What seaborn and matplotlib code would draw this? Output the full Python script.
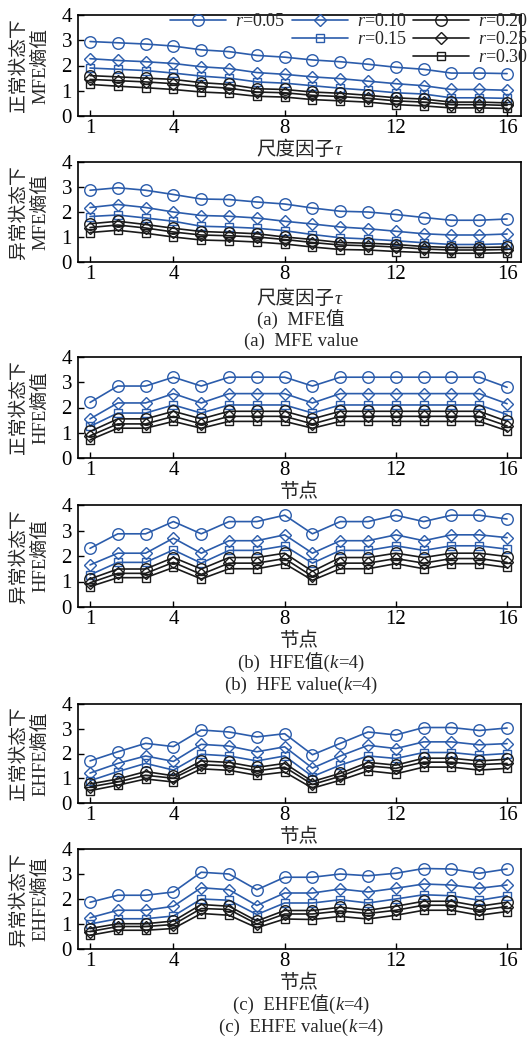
import matplotlib
matplotlib.use("Agg")
import matplotlib.pyplot as plt
from matplotlib.lines import Line2D
import seaborn as sns
import pandas as pd
import numpy as np

# ---------------- data ----------------
nodes = list(range(1, 17))
r_labels = ["0.05", "0.10", "0.15", "0.20", "0.25", "0.30"]

mfe_normal_05 = [2.95, 2.9, 2.85, 2.77, 2.62, 2.55, 2.4, 2.33, 2.22, 2.15, 2.05, 1.93, 1.85, 1.7, 1.7, 1.68]
mfe_normal_10 = [2.27, 2.2, 2.15, 2.08, 1.95, 1.88, 1.72, 1.65, 1.55, 1.48, 1.38, 1.28, 1.2, 1.05, 1.05, 1.02]
mfe_normal_15 = [1.9, 1.85, 1.8, 1.7, 1.58, 1.5, 1.35, 1.3, 1.2, 1.1, 1.02, 0.92, 0.87, 0.72, 0.72, 0.7]
mfe_normal_20 = [1.6, 1.55, 1.5, 1.45, 1.32, 1.25, 1.08, 1.05, 0.95, 0.9, 0.82, 0.72, 0.67, 0.55, 0.55, 0.52]
mfe_normal_25 = [1.45, 1.4, 1.35, 1.28, 1.17, 1.1, 0.95, 0.92, 0.82, 0.77, 0.7, 0.6, 0.55, 0.45, 0.45, 0.42]
mfe_normal_30 = [1.25, 1.18, 1.12, 1.05, 0.95, 0.9, 0.78, 0.75, 0.65, 0.6, 0.55, 0.45, 0.4, 0.32, 0.32, 0.3]

mfe_abn_05 = [2.87, 2.97, 2.87, 2.7, 2.52, 2.5, 2.4, 2.32, 2.16, 2.03, 2.0, 1.9, 1.78, 1.67, 1.67, 1.72]
mfe_abn_10 = [2.18, 2.3, 2.18, 2.0, 1.86, 1.83, 1.76, 1.63, 1.52, 1.4, 1.33, 1.23, 1.13, 1.08, 1.08, 1.12]
mfe_abn_15 = [1.82, 1.88, 1.76, 1.63, 1.43, 1.4, 1.35, 1.25, 1.1, 0.97, 0.92, 0.85, 0.77, 0.7, 0.7, 0.73]
mfe_abn_20 = [1.53, 1.63, 1.5, 1.35, 1.22, 1.18, 1.13, 1.0, 0.9, 0.78, 0.75, 0.7, 0.62, 0.58, 0.58, 0.6]
mfe_abn_25 = [1.38, 1.48, 1.36, 1.2, 1.08, 1.05, 1.0, 0.9, 0.78, 0.68, 0.65, 0.6, 0.52, 0.48, 0.48, 0.5]
mfe_abn_30 = [1.18, 1.27, 1.15, 1.0, 0.88, 0.85, 0.8, 0.72, 0.6, 0.5, 0.48, 0.42, 0.38, 0.35, 0.35, 0.37]

hfe_normal_05 = [2.2, 2.85, 2.85, 3.2, 2.85, 3.2, 3.2, 3.2, 2.85, 3.2, 3.2, 3.2, 3.2, 3.2, 3.2, 2.8]
hfe_normal_10 = [1.55, 2.18, 2.18, 2.55, 2.18, 2.55, 2.55, 2.55, 2.18, 2.55, 2.55, 2.55, 2.55, 2.55, 2.55, 2.15]
hfe_normal_15 = [1.25, 1.78, 1.78, 2.1, 1.78, 2.1, 2.1, 2.1, 1.78, 2.1, 2.1, 2.1, 2.1, 2.1, 2.1, 1.72]
hfe_normal_20 = [1.05, 1.55, 1.55, 1.85, 1.55, 1.85, 1.85, 1.85, 1.55, 1.85, 1.85, 1.85, 1.85, 1.85, 1.85, 1.45]
hfe_normal_25 = [0.88, 1.35, 1.35, 1.65, 1.35, 1.65, 1.65, 1.65, 1.35, 1.65, 1.65, 1.65, 1.65, 1.65, 1.65, 1.27]
hfe_normal_30 = [0.72, 1.18, 1.18, 1.45, 1.18, 1.45, 1.45, 1.45, 1.18, 1.45, 1.45, 1.45, 1.45, 1.45, 1.45, 1.08]

hfe_abn_05 = [2.3, 2.87, 2.87, 3.35, 2.87, 3.35, 3.35, 3.6, 2.87, 3.35, 3.35, 3.6, 3.35, 3.6, 3.6, 3.45]
hfe_abn_10 = [1.65, 2.11, 2.11, 2.7, 2.11, 2.6, 2.6, 2.83, 2.11, 2.6, 2.6, 2.83, 2.6, 2.83, 2.83, 2.72]
hfe_abn_15 = [1.26, 1.75, 1.75, 2.24, 1.72, 2.22, 2.22, 2.4, 1.72, 2.22, 2.22, 2.4, 2.22, 2.4, 2.4, 2.27]
hfe_abn_20 = [1.1, 1.49, 1.49, 1.94, 1.49, 1.94, 1.94, 2.11, 1.4, 1.94, 1.94, 2.11, 1.94, 2.11, 2.11, 1.98]
hfe_abn_25 = [0.95, 1.32, 1.32, 1.75, 1.28, 1.72, 1.72, 1.9, 1.2, 1.72, 1.72, 1.9, 1.72, 1.9, 1.9, 1.75]
hfe_abn_30 = [0.8, 1.15, 1.15, 1.55, 1.1, 1.5, 1.5, 1.7, 1.05, 1.5, 1.5, 1.7, 1.5, 1.7, 1.7, 1.55]

ehfe_normal_05 = [1.7, 2.07, 2.41, 2.28, 2.95, 2.87, 2.67, 2.8, 1.95, 2.41, 2.87, 2.75, 3.05, 3.05, 2.93, 3.03]
ehfe_normal_10 = [1.21, 1.6, 1.9, 1.68, 2.37, 2.3, 2.07, 2.27, 1.41, 1.9, 2.33, 2.2, 2.47, 2.47, 2.35, 2.4]
ehfe_normal_15 = [0.9, 1.27, 1.6, 1.33, 1.97, 1.9, 1.7, 1.9, 1.07, 1.53, 1.9, 1.8, 2.04, 2.04, 1.93, 2.0]
ehfe_normal_20 = [0.77, 0.97, 1.27, 1.1, 1.7, 1.64, 1.44, 1.6, 0.87, 1.2, 1.64, 1.53, 1.81, 1.81, 1.7, 1.77]
ehfe_normal_25 = [0.65, 0.85, 1.12, 1.0, 1.55, 1.5, 1.3, 1.45, 0.75, 1.08, 1.5, 1.4, 1.65, 1.65, 1.55, 1.6]
ehfe_normal_30 = [0.5, 0.72, 0.97, 0.85, 1.38, 1.32, 1.12, 1.25, 0.6, 0.92, 1.3, 1.18, 1.45, 1.45, 1.33, 1.4]

ehfe_abn_05 = [1.87, 2.15, 2.15, 2.28, 3.07, 3.0, 2.37, 2.87, 2.87, 3.0, 2.93, 3.03, 3.22, 3.2, 3.03, 3.2]
ehfe_abn_10 = [1.25, 1.55, 1.55, 1.71, 2.45, 2.37, 1.74, 2.24, 2.24, 2.4, 2.28, 2.43, 2.6, 2.56, 2.43, 2.56]
ehfe_abn_15 = [1.0, 1.21, 1.21, 1.32, 2.0, 1.95, 1.38, 1.84, 1.84, 1.97, 1.84, 2.0, 2.17, 2.13, 1.95, 2.13]
ehfe_abn_20 = [0.82, 1.01, 1.01, 1.12, 1.78, 1.71, 1.12, 1.54, 1.54, 1.67, 1.55, 1.71, 1.91, 1.91, 1.71, 1.87]
ehfe_abn_25 = [0.7, 0.9, 0.9, 0.98, 1.62, 1.58, 1.0, 1.4, 1.4, 1.52, 1.42, 1.55, 1.75, 1.75, 1.55, 1.7]
ehfe_abn_30 = [0.55, 0.75, 0.75, 0.82, 1.42, 1.35, 0.85, 1.2, 1.18, 1.3, 1.2, 1.35, 1.55, 1.55, 1.35, 1.5]

x_ticks = [1, 4, 8, 12, 16]
y_ticks = [0, 1, 2, 3, 4]

panels = [
    ("正常状态下\nMFE熵值", [mfe_normal_05, mfe_normal_10, mfe_normal_15, mfe_normal_20, mfe_normal_25, mfe_normal_30], [("尺度因子", False), ("τ", True)]),
    ("异常状态下\nMFE熵值", [mfe_abn_05, mfe_abn_10, mfe_abn_15, mfe_abn_20, mfe_abn_25, mfe_abn_30], [("尺度因子", False), ("τ", True)]),
    ("正常状态下\nHFE熵值", [hfe_normal_05, hfe_normal_10, hfe_normal_15, hfe_normal_20, hfe_normal_25, hfe_normal_30], [("节点", False)]),
    ("异常状态下\nHFE熵值", [hfe_abn_05, hfe_abn_10, hfe_abn_15, hfe_abn_20, hfe_abn_25, hfe_abn_30], [("节点", False)]),
    ("正常状态下\nEHFE熵值", [ehfe_normal_05, ehfe_normal_10, ehfe_normal_15, ehfe_normal_20, ehfe_normal_25, ehfe_normal_30], [("节点", False)]),
    ("异常状态下\nEHFE熵值", [ehfe_abn_05, ehfe_abn_10, ehfe_abn_15, ehfe_abn_20, ehfe_abn_25, ehfe_abn_30], [("节点", False)]),
]

captions = [
    (318, [("(a)  MFE值", False)]),
    (339, [("(a)  MFE value", False)]),
    (661, [("(b)  HFE值(", False), ("k", True), ("=4)", False)]),
    (683, [("(b)  HFE value(", False), ("k", True), ("=4)", False)]),
    (1003, [("(c)  EHFE值(", False), ("k", True), ("=4)", False)]),
    (1025, [("(c)  EHFE value(", False), ("k", True), ("=4)", False)]),
]

# ---------------- style ----------------
sns.set_theme(style="ticks")
plt.rcParams["font.family"] = ["Liberation Serif", "Noto Sans CJK SC"]
plt.rcParams["mathtext.fontset"] = "custom"
plt.rcParams["mathtext.rm"] = "Liberation Serif"
plt.rcParams["mathtext.it"] = "Liberation Serif:italic"
plt.rcParams["axes.unicode_minus"] = False

BLUE = "#2B5CAB"
BLACK = "#1a1a1a"
colors = [BLUE, BLUE, BLUE, BLACK, BLACK, BLACK]
markers = ["o", "D", "s", "o", "D", "s"]
msizes = {"o": 8.3, "D": 6.2, "s": 6.4}

W, H = 532, 1041
fig = plt.figure(figsize=(W / 100, H / 100), dpi=100)

ax_left = 77.5
ax_right = 521.0
# (top px, bottom px)
ax_rows = [(15, 116), (162, 262), (357, 458), (505, 607), (704, 803), (849, 949)]
xlabel_y = [148, 297, 490, 639, 835, 981]

renderer = fig.canvas.get_renderer()


def rich_text(xc_px, yc_px, pieces, size):
    objs = []
    for s, ital in pieces:
        if ital:
            t = fig.text(0, 0, s, fontsize=size, fontstyle="italic",
                         family=["Liberation Serif"], ha="left", va="baseline")
        else:
            t = fig.text(0, 0, s, fontsize=size, ha="left", va="baseline")
        objs.append(t)
    widths = [o.get_window_extent(renderer).width for o in objs]
    total = sum(widths)
    x = xc_px - total / 2
    base = yc_px + size * 100 / 72 * 0.36
    for o, w in zip(objs, widths):
        o.set_position((x / W, 1 - base / H))
        x += w


legend_handles = []
for i, (ylab, series, xlab) in enumerate(panels):
    top, bot = ax_rows[i]
    ax = fig.add_axes([ax_left / W, 1 - bot / H, (ax_right - ax_left) / W, (bot - top) / H])
    for j, vals in enumerate(series):
        df = pd.DataFrame({"node": nodes, "value": vals})
        sns.lineplot(data=df, x="node", y="value", ax=ax, color=colors[j],
                     marker=markers[j], markersize=msizes[markers[j]],
                     mfc="none", mec=colors[j], mew=1.0, lw=1.2,
                     label=f"$r$={r_labels[j]}" if i == 0 else None,
                     legend=False)
    ax.set_xlim(0.55, 16.5)
    ax.set_ylim(0, 4)
    ax.set_xticks(x_ticks)
    ax.set_yticks(y_ticks)
    ax.set_xlabel("")
    ax.set_ylabel("")
    ax.tick_params(axis="both", direction="in", length=4.5, width=1.0,
                   labelsize=15, colors="black", bottom=True, left=True,
                   top=False, right=False)
    ax.tick_params(axis="x", pad=2)
    ax.tick_params(axis="y", pad=4)
    for sp in ax.spines.values():
        sp.set_visible(True)
        sp.set_color("black")
        sp.set_linewidth(1.2)
    # y label
    fig.text(30 / W, 1 - ((top + bot) / 2) / H, ylab, rotation=90, ha="center",
             va="center", fontsize=13.5, multialignment="center", linespacing=1.3)
    rich_text((ax_left + ax_right) / 2, xlabel_y[i], xlab, 14)
    if i == 0:
        legend_handles = ax.get_lines()[:6]
        lax = ax

for yc, pieces in captions:
    rich_text((ax_left + ax_right) / 2 + 2, yc, pieces, 13.5)

# legend (3 columns, right aligned rows)
blank = Line2D([], [], linestyle="none", marker=None)
h = legend_handles
handles = [h[0], blank, blank, h[1], h[2], blank, h[3], h[4], h[5]]
labels = ["$r$=0.05", "", "", "$r$=0.10", "$r$=0.15", "", "$r$=0.20", "$r$=0.25", "$r$=0.30"]
leg = lax.legend(handles, labels, ncol=3, loc="upper right",
                 bbox_to_anchor=(528 / W, 1 - 13.5 / H), bbox_transform=fig.transFigure,
                 frameon=False, fontsize=13, handlelength=3.1, handletextpad=0.5,
                 columnspacing=0.35, labelspacing=0.05, borderpad=0, borderaxespad=0)

fig.savefig("out.png", dpi=100)
